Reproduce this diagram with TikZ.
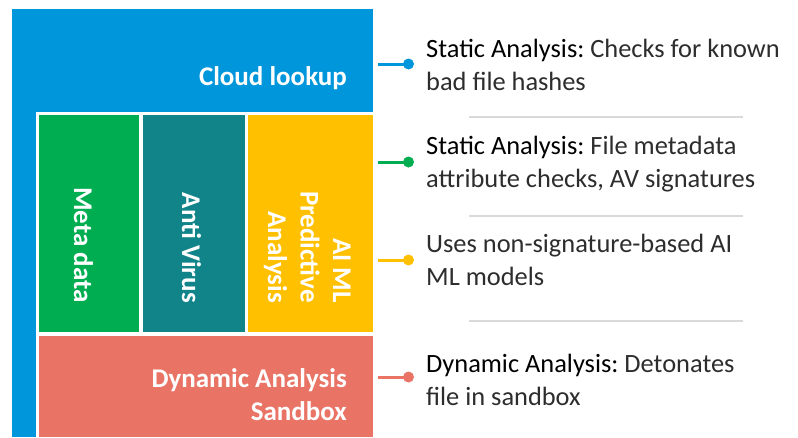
\documentclass[tikz,border=0pt]{standalone}
\usepackage{fontspec}
\setmainfont{Carlito}
\frenchspacing
\definecolor{cblue}{RGB}{0,150,219}
\definecolor{cgreen}{RGB}{0,173,80}
\definecolor{cteal}{RGB}{16,132,137}
\definecolor{cyellow}{RGB}{255,192,0}
\definecolor{csalmon}{RGB}{233,116,102}
\definecolor{sepgray}{RGB}{217,217,217}
\definecolor{txt}{RGB}{45,45,45}
\begin{document}
\begin{tikzpicture}[x=1pt,y=-1pt,
 box/.style={rectangle,inner sep=0pt,outer sep=0pt,anchor=north west},
 lbl/.style={text=white,font=\fontsize{27}{32.5}\selectfont\bfseries,inner sep=0pt,align=right},
 desc/.style={text=txt,font=\fontsize{26.4}{32.5}\selectfont,inner sep=0pt,align=left,anchor=base west},
 link/.style={line width=3pt},
 dot/.style={circle,inner sep=0pt,minimum size=11pt},
 rule/.style={draw=sepgray,line width=1.2pt}]
\useasboundingbox[fill=white] (0,0) rectangle (798,437);
% boxes
\node[box,fill=cblue,minimum width=361pt,minimum height=428pt] (cloud) at (12,9) {};
\node[box,fill=white,minimum width=337pt,minimum height=325pt] (frame) at (36,112) {};
\node[box,fill=cgreen,minimum width=100pt,minimum height=217pt] (meta) at (39,115) {};
\node[box,fill=cteal,minimum width=102pt,minimum height=217pt] (av) at (143,115) {};
\node[box,fill=cyellow,minimum width=125pt,minimum height=217pt] (ai) at (248,115) {};
\node[box,fill=csalmon,minimum width=334pt,minimum height=101pt] (dyn) at (39,336) {};
% box labels (base = last line baseline)
\node[lbl,anchor=base east] (tcloud) at (347,85) {Cloud lookup};
\node[lbl,anchor=base east] (tdyn) at (347,420) {Dynamic Analysis\\Sandbox};
\node[lbl,rotate=-90,anchor=base east] (tmeta) at (74,303) {Meta data};
\node[lbl,rotate=-90,anchor=base east] (tav) at (182,303) {Anti Virus};
\node[lbl,rotate=-90,anchor=base east] (tai) at (268,303) {AI ML\\Predictive\\Analysis};
% connectors
\coordinate (s1) at (378,64);
\coordinate (s2) at (378,162);
\coordinate (s3) at (378,260);
\coordinate (s4) at (378,377);
\node[dot,fill=cblue] (d1) at (408.5,64) {};
\node[dot,fill=cgreen] (d2) at (408.5,162) {};
\node[dot,fill=cyellow] (d3) at (408.5,260) {};
\node[dot,fill=csalmon] (d4) at (408.5,377) {};
\draw[link,cblue] (s1) -- (d1.center);
\draw[link,cgreen] (s2) -- (d2.center);
\draw[link,cyellow] (s3) -- (d3.center);
\draw[link,csalmon] (s4) -- (d4.center);
% separators
\coordinate (r1a) at (469,117); \coordinate (r1b) at (743,117);
\coordinate (r2a) at (469,216); \coordinate (r2b) at (743,216);
\coordinate (r3a) at (469,321); \coordinate (r3b) at (743,321);
\draw[rule] (r1a) -- (r1b);
\draw[rule] (r2a) -- (r2b);
\draw[rule] (r3a) -- (r3b);
% descriptions (base = last line baseline)
\node[desc] (x1) at (426,90) {\textcolor{black}{Static Analysis:} Checks for known\\bad file hashes};
\node[desc] (x2) at (426,187) {\textcolor{black}{Static Analysis:} File metadata\\attribute checks, AV signatures};
\node[desc] (x3) at (426,285) {Uses non-signature-based AI\\ML models};
\node[desc] (x4) at (426,405) {\textcolor{black}{Dynamic Analysis:} Detonates\\file in sandbox};
\end{tikzpicture}
\end{document}
